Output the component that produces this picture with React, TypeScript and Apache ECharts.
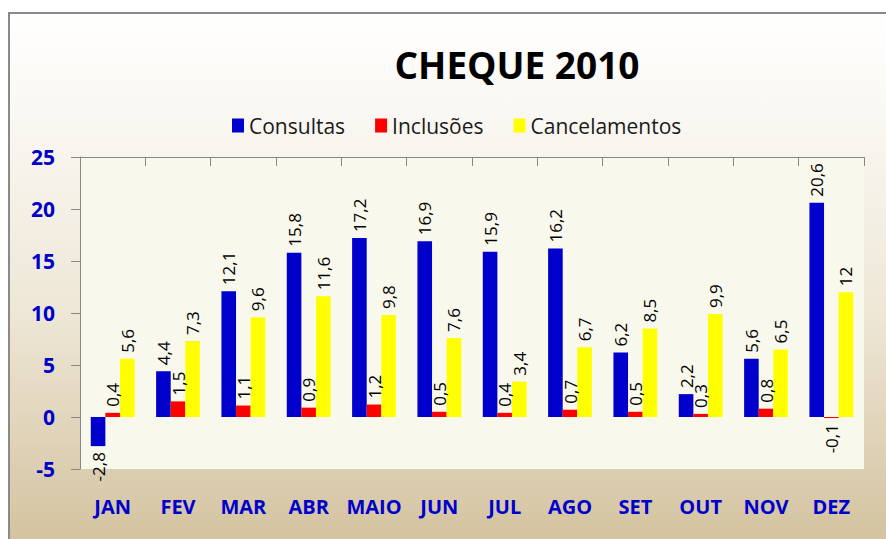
import React, { useEffect, useRef } from "react";
import * as echarts from "echarts";

const months = ["JAN", "FEV", "MAR", "ABR", "MAIO", "JUN", "JUL", "AGO", "SET", "OUT", "NOV", "DEZ"];
const consultas = [-2.8, 4.4, 12.1, 15.8, 17.2, 16.9, 15.9, 16.2, 6.2, 2.2, 5.6, 20.6];
const inclusoes = [0.4, 1.5, 1.1, 0.9, 1.2, 0.5, 0.4, 0.7, 0.5, 0.3, 0.8, -0.1];
const cancelamentos = [5.6, 7.3, 9.6, 11.6, 9.8, 7.6, 3.4, 6.7, 8.5, 9.9, 6.5, 12];
const seriesNames = ["Consultas", "Inclusões", "Cancelamentos"];
const seriesColors = ["#0000CC", "#FF0000", "#FFFF00"];
const yTicks = { min: -5, max: 25, interval: 5 };

const AXIS_BLUE = "#0000CC";
const AXIS_GREY = "#878787";
const FONT = "'Open Sans', 'Noto Sans', sans-serif";

function toItems(values: number[]) {
  return values.map((v) =>
    v < 0
      ? { value: v, label: { position: "bottom", align: "right" } }
      : v
  );
}

export default function App() {
  const ref = useRef<HTMLDivElement>(null);
  useEffect(() => {
    if (!ref.current) return;
    const chart = echarts.init(ref.current, null, { renderer: "svg" });
    const allSeries = [consultas, inclusoes, cancelamentos];
    chart.setOption({
      animation: false,
      backgroundColor: "#ffffff",
      graphic: [
        {
          type: "rect",
          z: -10,
          silent: true,
          shape: { x: 9, y: 13, width: 900, height: 540 },
          style: {
            stroke: "#8a8a8a",
            lineWidth: 2,
            fill: new echarts.graphic.LinearGradient(0, 0, 0, 1, [
              { offset: 0, color: "#ffffff" },
              { offset: 0.25, color: "#f8f5ee" },
              { offset: 0.55, color: "#eee7d7" },
              { offset: 0.82, color: "#ddd0b4" },
              { offset: 1, color: "#d2c19d" },
            ]),
          },
        },
      ],
      title: {
        text: "CHEQUE 2010",
        left: 512,
        top: 41,
        textAlign: "center",
        textStyle: { fontFamily: FONT, fontWeight: "bold", fontSize: 37, color: "#000000" },
      },
      legend: {
        data: seriesNames,
        left: 227,
        top: 110,
        icon: "rect",
        itemWidth: 12,
        itemHeight: 14,
        itemGap: 30,
        textStyle: { fontFamily: FONT, fontSize: 21, color: "#1a1a1a" },
      },
      grid: {
        left: 80,
        right: 22,
        top: 157,
        bottom: 70,
        show: true,
        backgroundColor: "#f9f8ec",
        borderWidth: 0,
        containLabel: false,
      },
      xAxis: [
        {
          type: "category",
          data: months,
          position: "bottom",
          axisLine: { show: false },
          axisTick: { show: false },
          axisLabel: {
            color: AXIS_BLUE,
            fontFamily: FONT,
            fontWeight: "bold",
            fontSize: 20,
            margin: 27,
            interval: 0,
          },
        },
        {
          type: "category",
          data: months,
          position: "top",
          axisLine: { show: true, onZero: true, lineStyle: { color: AXIS_GREY, width: 1 } },
          axisTick: { show: true, inside: true, length: 9, lineStyle: { color: AXIS_GREY } },
          axisLabel: { show: false },
        },
      ],
      yAxis: {
        type: "value",
        min: yTicks.min,
        max: yTicks.max,
        interval: yTicks.interval,
        axisLine: { show: true, lineStyle: { color: AXIS_GREY, width: 1 } },
        axisTick: { show: true, length: 9, lineStyle: { color: AXIS_GREY } },
        splitLine: { show: false },
        axisLabel: {
          color: AXIS_BLUE,
          fontFamily: FONT,
          fontWeight: "bold",
          fontSize: 21,
          margin: 25,
        },
      },
      series: allSeries.map((vals, i) => ({
        name: seriesNames[i],
        type: "bar",
        xAxisIndex: 0,
        data: toItems(vals),
        barGap: "0%",
        barCategoryGap: "33%",
        itemStyle: { color: seriesColors[i] },
        label: {
          show: true,
          position: "top",
          rotate: 90,
          align: "left",
          verticalAlign: "middle",
          distance: 6,
          color: "#000000",
          fontFamily: FONT,
          fontSize: 17,
          formatter: (p: any) => String(p.value).replace(".", ","),
        },
      })),
    });
    return () => chart.dispose();
  }, []);
  return (
    <div
      ref={ref}
      style={{ position: "fixed", left: 0, top: 0, width: 886, height: 539 }}
    />
  );
}
